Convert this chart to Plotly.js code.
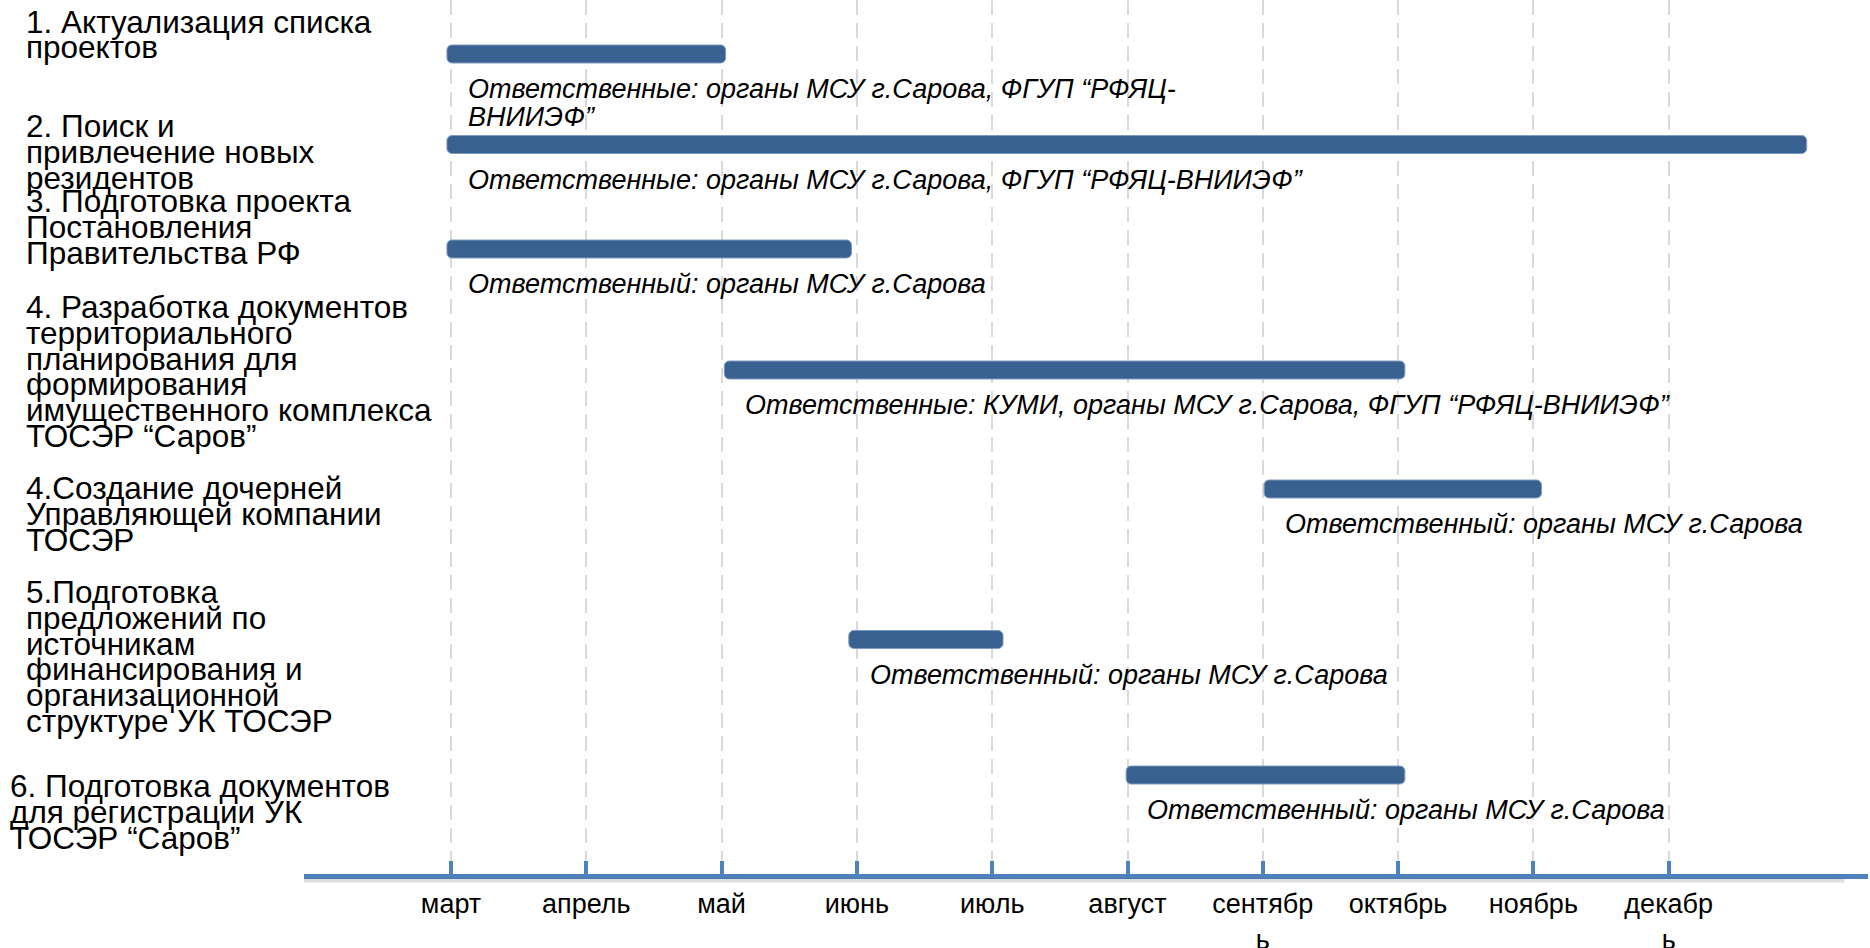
<!DOCTYPE html>
<html>
<head>
<meta charset="utf-8">
<script src="https://cdn.plot.ly/plotly-3.0.1.min.js"></script>
<style>
  html, body { margin: 0; padding: 0; background: #ffffff; }
  #chart { width: 1870px; height: 948px; }
</style>
</head>
<body>
<div id="chart"></div>
<script>
// ---------- DATA ----------
const monthLabels = ['март', 'апрель', 'май', 'июнь', 'июль', 'август', 'сентябр<br>ь', 'октябрь', 'ноябрь', 'декабр<br>ь'];
const monthIndex = [0, 1, 2, 3, 4, 5, 6, 7, 8, 9];

const taskNames = [
  ['1. Актуализация списка', 'проектов'],
  ['2. Поиск и', 'привлечение новых', 'резидентов'],
  ['3. Подготовка проекта', 'Постановления', 'Правительства РФ'],
  ['4. Разработка документов', 'территориального', 'планирования для', 'формирования', 'имущественного комплекса', 'ТОСЭР “Саров”'],
  ['4.Создание дочерней', 'Управляющей компании', 'ТОСЭР'],
  ['5.Подготовка', 'предложений по', 'источникам', 'финансирования и', 'организационной', 'структуре УК ТОСЭР'],
  ['6. Подготовка документов', 'для регистрации УК', 'ТОСЭР “Саров”']
];

// start / end in months (0 = март)
const taskStart = [-0.03, -0.03, -0.03, 2.02, 6.01, 2.94, 4.99];
const taskEnd   = [2.03, 10.02, 2.96, 7.05, 8.06, 4.08, 7.05];

const responsible = [
  ['Ответственные: органы МСУ г.Сарова, ФГУП “РФЯЦ-', 'ВНИИЭФ”'],
  ['Ответственные: органы МСУ г.Сарова, ФГУП “РФЯЦ-ВНИИЭФ”'],
  ['Ответственный: органы МСУ г.Сарова'],
  ['Ответственные: КУМИ, органы МСУ г.Сарова, ФГУП “РФЯЦ-ВНИИЭФ”'],
  ['Ответственный: органы МСУ г.Сарова'],
  ['Ответственный: органы МСУ г.Сарова'],
  ['Ответственный: органы МСУ г.Сарова']
];

// ---------- LAYOUT (vertical placement of rows, in plot units) ----------
const rowCenter = [54, 144.5, 249, 370, 489, 639.5, 775];
const labelTop  = [21.5, 126, 201, 307, 488, 592, 786];
const labelLeftPx = [24, 24, 24, 24, 24, 24, 8];
const labelLineStep = 25.8;
const noteLineStep = 27.5;

const W = 1870, H = 948;
const M = { l: 304, r: 2, t: 0, b: 74 };
const plotW = W - M.l - M.r;
const plotH = H - M.t - M.b;
const xRange = [-1.0865, 10.473];
const yRange = [plotH, 0];

const FONT = 'Liberation Sans, Arial, sans-serif';
const BAR = '#38618F';
const AXIS = '#4F81BD';

const durations = taskEnd.map((e, i) => e - taskStart[i]);

const traces = [{
  type: 'bar',
  orientation: 'h',
  base: taskStart,
  x: durations,
  y: rowCenter,
  width: 18,
  marker: { color: BAR, line: { color: '#7F9CC0', width: 1 } },
  hoverinfo: 'skip'
}];

const annotations = [];
// left labels, one annotation per line for tight line spacing
taskNames.forEach((lines, i) => {
  lines.forEach((ln, j) => {
    annotations.push({
      xref: 'paper', yref: 'y',
      x: (labelLeftPx[i] - M.l) / plotW,
      y: labelTop[i] + j * labelLineStep,
      text: ln, showarrow: false,
      xanchor: 'left', yanchor: 'middle',
      font: { family: FONT, size: 31.5, color: '#000000' }
    });
  });
});
// responsibility notes under bars
responsible.forEach((lines, i) => {
  lines.forEach((ln, j) => {
    annotations.push({
      xref: 'x', yref: 'y',
      x: taskStart[i], y: rowCenter[i],
      xshift: 19,
      yshift: -35 - j * noteLineStep,
      text: '<i>' + ln + '</i>',
      showarrow: false, align: 'left',
      xanchor: 'left', yanchor: 'middle',
      font: { family: FONT, size: 27, color: '#000000' }
    });
  });
});
// arrow head at the end of the time axis
annotations.push({
  xref: 'x', yref: 'y',
  x: xRange[1], y: yRange[0] + 2.5,
  ax: -30, ay: 0, text: '',
  showarrow: true, arrowhead: 2, arrowsize: 0.9, arrowwidth: 5,
  arrowcolor: AXIS, standoff: 0
});

const layout = {
  width: W, height: H,
  margin: M,
  paper_bgcolor: '#ffffff', plot_bgcolor: '#ffffff',
  showlegend: false,
  hovermode: false,
  barcornerradius: 5,
  xaxis: {
    range: xRange,
    tickmode: 'array', tickvals: monthIndex, ticktext: monthLabels,
    showgrid: true, gridcolor: '#D9D9D9', gridwidth: 2, griddash: '15px,8px',
    zeroline: false,
    showline: true, linecolor: AXIS, linewidth: 5,
    ticks: 'inside', ticklen: 13, tickwidth: 4, tickcolor: AXIS,
    ticklabelstandoff: 2,
    tickfont: { family: FONT, size: 27, color: '#000000' },
    fixedrange: true
  },
  yaxis: {
    range: yRange, visible: false, fixedrange: true
  },
  shapes: [{
    type: 'line', xref: 'paper', yref: 'paper',
    x0: 0, x1: 0.985, y0: -0.0075, y1: -0.0075,
    line: { color: 'rgba(0,0,0,0.13)', width: 4 }
  }],
  annotations: annotations
};

Plotly.newPlot('chart', traces, layout, { displayModeBar: false, staticPlot: true });
</script>
</body>
</html>
